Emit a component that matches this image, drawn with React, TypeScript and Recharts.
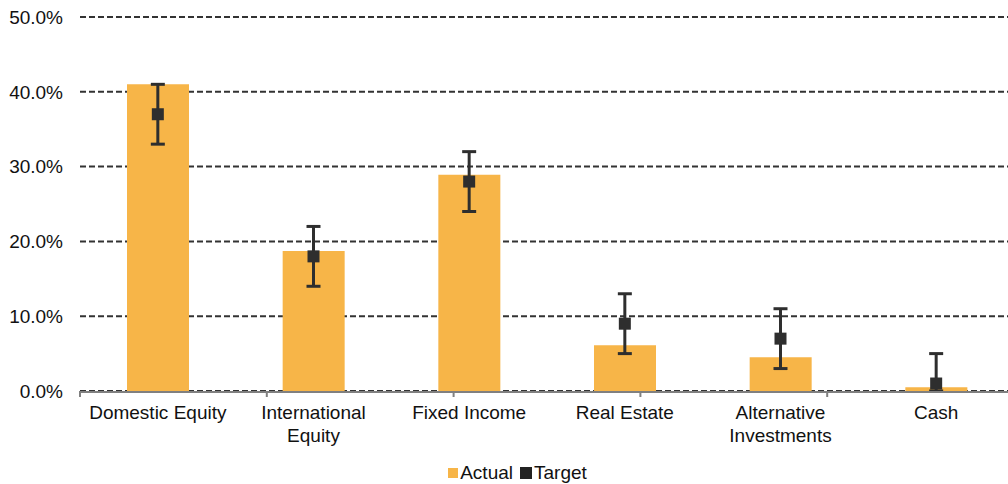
import {
  ComposedChart,
  Bar,
  Scatter,
  ErrorBar,
  XAxis,
  YAxis,
  CartesianGrid,
  Legend,
} from "recharts";

const categories = [
  "Domestic Equity",
  "International\nEquity",
  "Fixed Income",
  "Real Estate",
  "Alternative\nInvestments",
  "Cash",
];
const actual = [41.0, 18.7, 28.9, 6.1, 4.5, 0.5];
const target = [37, 18, 28, 9, 7, 1];
const targetBelow = [4, 4, 4, 4, 4, 1];
const targetAbove = [4, 4, 4, 4, 4, 4];
const yTicks = [0, 10, 20, 30, 40, 50];
const boundaryTicks = [0, 1, 2, 3, 4, 5, 6];

const FONT = '"Liberation Sans", Arial, sans-serif';

const data = categories.map((c, i) => ({
  name: c,
  Actual: actual[i],
  Target: target[i],
  range: [targetBelow[i], targetAbove[i]],
}));

// category labels, split on \n for the two-line ones
const CategoryTick = (props: any) => {
  const { x, y, payload } = props;
  const lines = String(payload.value).split("\n");
  return (
    <text x={x} y={y} textAnchor="middle" fontSize={19} fill="#111" fontFamily={FONT}>
      {lines.map((l: string, i: number) => (
        <tspan key={i} x={x} dy={i === 0 ? 19 : 23}>
          {l}
        </tspan>
      ))}
    </text>
  );
};

const TargetSquare = (props: any) => {
  const { cx, cy } = props;
  return <rect x={cx - 6} y={cy - 6} width={12} height={12} fill="#2e2e2e" />;
};

const legendIcons: Record<string, { size: number; color: string }> = {
  Actual: { size: 10, color: "#F7B548" },
  Target: { size: 12, color: "#222" },
};

const LegendContent = (props: any) => {
  const { payload } = props;
  return (
    <div style={{ display: "flex", justifyContent: "center", alignItems: "center", fontFamily: FONT, fontSize: 19, color: "#111" }}>
      {(payload || []).map((p: any) => {
        const icon = legendIcons[p.value] || { size: 10, color: p.color };
        return (
          <span key={p.value} style={{ display: "flex", alignItems: "center", marginRight: 7 }}>
            <span style={{ display: "inline-block", width: icon.size, height: icon.size, background: icon.color, marginRight: 2 }} />
            {p.value}
          </span>
        );
      })}
    </div>
  );
};

export default function App() {
  return (
    <div style={{ width: 1008, height: 484, overflow: "hidden", background: "#fff" }}>
      <style>{"body{margin:0;overflow:hidden}"}</style>
      <ComposedChart
        width={1030}
        height={484}
        data={data}
        margin={{ top: 17, right: 16, bottom: 0, left: 0 }}
      >
        <CartesianGrid xAxisId="cat" vertical={false} stroke="#333" strokeWidth={2} strokeDasharray="6 3" />
        {/* Excel-style tick marks between categories */}
        <XAxis
          xAxisId="a_bounds"
          type="number"
          domain={[0, 6]}
          allowDataOverflow
          ticks={boundaryTicks}
          tickFormatter={() => ""}
          axisLine={false}
          tickLine={{ stroke: "#808080", strokeWidth: 2 }}
          tickSize={6}
          height={1}
        />
        <XAxis
          xAxisId="cat"
          dataKey="name"
          interval={0}
          tickLine={false}
          axisLine={{ stroke: "#808080", strokeWidth: 2 }}
          tick={<CategoryTick />}
          height={70}
        />
        <YAxis
          width={80}
          domain={[0, 50]}
          ticks={yTicks}
          axisLine={false}
          tickLine={false}
          tickSize={8}
          tickMargin={9}
          tickFormatter={(v: number) => `${v.toFixed(1)}%`}
          tick={{ fontSize: 19, fill: "#111", fontFamily: FONT }}
        />
        <Legend verticalAlign="bottom" content={<LegendContent />} wrapperStyle={{ left: 6, width: 1030 }} />
        <Bar xAxisId="cat" dataKey="Actual" fill="#F7B548" barSize={62} isAnimationActive={false} />
        <Scatter xAxisId="cat" dataKey="Target" fill="#222" shape={<TargetSquare />} isAnimationActive={false}>
          <ErrorBar dataKey="range" direction="y" width={7} stroke="#2e2e2e" strokeWidth={3} />
        </Scatter>
      </ComposedChart>
    </div>
  );
}
